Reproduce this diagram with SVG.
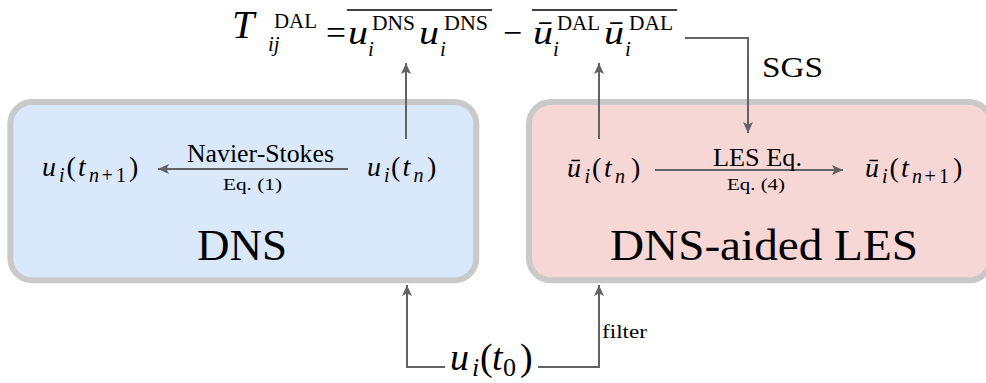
<svg xmlns="http://www.w3.org/2000/svg" width="986" height="383" viewBox="0 0 986 383">
  <style>
    text { font-family: "Liberation Serif", "Times New Roman", serif; fill: #000; }
    .mi { font-style: italic; }
    .box { stroke: #c9c9c9; stroke-width: 6; }
    .conn { fill: none; stroke: #626262; stroke-width: 2; }
    .bar { stroke: #000; stroke-width: 1.4; }
  </style>
  <defs>
    <marker id="arr" markerUnits="userSpaceOnUse" markerWidth="12" markerHeight="10" refX="11" refY="5" orient="auto">
      <path d="M0,0 L11,5 L0,10 L2.5,5 z" fill="#626262"/>
    </marker>
  </defs>
  <rect width="986" height="383" fill="#ffffff"/>

  <g id="dns-box">
    <rect class="box" x="10.3" y="102" width="466" height="178.3" rx="22" fill="#dae8fb"/>
    <text x="242" y="260" font-size="45" text-anchor="middle" textLength="90" lengthAdjust="spacingAndGlyphs">DNS</text>
  </g>

  <g id="les-box">
    <rect class="box" x="529" y="102" width="462" height="178.3" rx="22" fill="#f6d7d5"/>
    <text x="764" y="260" font-size="45" text-anchor="middle" textLength="308" lengthAdjust="spacingAndGlyphs">DNS-aided LES</text>
  </g>

  <g id="formula">
    <text class="mi" x="232" y="38" font-size="40">T</text>
    <text class="mi" x="268" y="51" font-size="21">ij</text>
    <text x="274" y="28" font-size="20" textLength="43" lengthAdjust="spacingAndGlyphs">DAL</text>
    <text x="326" y="44" font-size="34" textLength="20" lengthAdjust="spacingAndGlyphs">=</text>
    <line class="bar" x1="347" y1="10" x2="492" y2="10"/>
    <text class="mi" x="348" y="44" font-size="34" textLength="20" lengthAdjust="spacingAndGlyphs">u</text>
    <text class="mi" x="368" y="56" font-size="21">i</text>
    <text x="372" y="30" font-size="20" textLength="43" lengthAdjust="spacingAndGlyphs">DNS</text>
    <text class="mi" x="419" y="44" font-size="34" textLength="20" lengthAdjust="spacingAndGlyphs">u</text>
    <text class="mi" x="440" y="56" font-size="21">i</text>
    <text x="444" y="30" font-size="20" textLength="44" lengthAdjust="spacingAndGlyphs">DNS</text>
    <text x="503" y="44" font-size="34" textLength="19" lengthAdjust="spacingAndGlyphs">−</text>
    <line class="bar" x1="532" y1="10" x2="677" y2="10"/>
    <text class="mi" x="533" y="44" font-size="34" textLength="20" lengthAdjust="spacingAndGlyphs">ū</text>
    <text class="mi" x="553" y="56" font-size="21">i</text>
    <text x="557" y="30" font-size="20" textLength="43" lengthAdjust="spacingAndGlyphs">DAL</text>
    <text class="mi" x="604" y="44" font-size="34" textLength="20" lengthAdjust="spacingAndGlyphs">ū</text>
    <text class="mi" x="625" y="56" font-size="21">i</text>
    <text x="629" y="30" font-size="20" textLength="44" lengthAdjust="spacingAndGlyphs">DAL</text>
  </g>

  <g id="dns-next">
    <text font-size="28" y="176"><tspan class="mi" x="42">u</tspan><tspan class="mi" x="59" y="182" font-size="20">i</tspan><tspan x="66.5" y="176">(</tspan><tspan class="mi" x="78">t</tspan><tspan class="mi" x="89" y="182" font-size="20">n</tspan><tspan x="101.5" y="182" font-size="20">+</tspan><tspan x="116" y="182" font-size="20">1</tspan><tspan x="129" y="176">)</tspan></text>
  </g>

  <g id="dns-current">
    <text font-size="28" y="176"><tspan class="mi" x="367">u</tspan><tspan class="mi" x="384" y="182" font-size="20">i</tspan><tspan x="391" y="176">(</tspan><tspan class="mi" x="402.5">t</tspan><tspan class="mi" x="413.5" y="182" font-size="20">n</tspan><tspan x="427" y="176">)</tspan></text>
  </g>

  <g id="les-current">
    <text font-size="28" y="177"><tspan class="mi" x="567">ū</tspan><tspan class="mi" x="584.5" y="183" font-size="20">i</tspan><tspan x="592" y="177">(</tspan><tspan class="mi" x="604">t</tspan><tspan class="mi" x="615" y="183" font-size="20">n</tspan><tspan x="631" y="177">)</tspan></text>
  </g>

  <g id="les-next">
    <text font-size="28" y="177"><tspan class="mi" x="865">ū</tspan><tspan class="mi" x="882" y="183" font-size="20">i</tspan><tspan x="889.5" y="177">(</tspan><tspan class="mi" x="901">t</tspan><tspan class="mi" x="912" y="183" font-size="20">n</tspan><tspan x="924.5" y="183" font-size="20">+</tspan><tspan x="939" y="183" font-size="20">1</tspan><tspan x="953" y="177">)</tspan></text>
  </g>

  <g id="initial">
    <text font-size="38" y="370"><tspan class="mi" x="450">u</tspan><tspan class="mi" x="472" y="376" font-size="26">i</tspan><tspan x="480" y="370">(</tspan><tspan class="mi" x="492">t</tspan><tspan x="503" y="376" font-size="26">0</tspan><tspan x="520" y="370">)</tspan></text>
  </g>

  <g id="connectors">
    <line class="conn" x1="348" y1="169" x2="158" y2="169" marker-end="url(#arr)"/>
    <line class="conn" x1="655" y1="170" x2="843" y2="170" marker-end="url(#arr)"/>
    <line class="conn" x1="406" y1="139" x2="406" y2="63" marker-end="url(#arr)"/>
    <line class="conn" x1="599" y1="139" x2="599" y2="63" marker-end="url(#arr)"/>
    <path class="conn" d="M685,38 H748 V133" marker-end="url(#arr)"/>
    <path class="conn" d="M445,367 H407 V285" marker-end="url(#arr)"/>
    <path class="conn" d="M538,367 H599 V285" marker-end="url(#arr)"/>
    <text x="260.5" y="162" font-size="25.5" text-anchor="middle" textLength="147" lengthAdjust="spacingAndGlyphs">Navier-Stokes</text>
    <text x="252.5" y="190" font-size="17" text-anchor="middle" textLength="59" lengthAdjust="spacingAndGlyphs">Eq. (1)</text>
    <text x="757.5" y="166" font-size="25.5" text-anchor="middle" textLength="89" lengthAdjust="spacingAndGlyphs">LES Eq.</text>
    <text x="756" y="190" font-size="17" text-anchor="middle" textLength="58" lengthAdjust="spacingAndGlyphs">Eq. (4)</text>
    <text x="762" y="77" font-size="30" textLength="61" lengthAdjust="spacingAndGlyphs">SGS</text>
    <text x="602" y="338" font-size="19" textLength="45" lengthAdjust="spacingAndGlyphs">filter</text>
  </g>
</svg>
